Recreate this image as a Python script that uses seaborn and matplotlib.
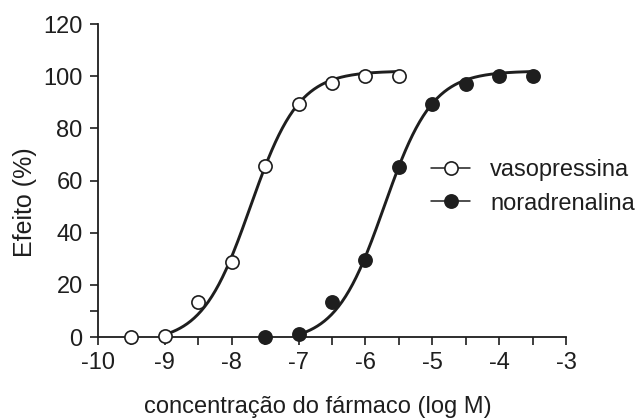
import numpy as np
import pandas as pd
import matplotlib
matplotlib.use("Agg")
import matplotlib.pyplot as plt
from matplotlib.lines import Line2D
import seaborn as sns

# doses (log M) and responses (%)
vaso_dose = [-9.5, -9.0, -8.5, -8.0, -7.5, -7.0, -6.5, -6.0, -5.5]
vaso_effect = [0, 0.5, 13.5, 28.7, 65.5, 89.3, 97.5, 100, 100]
nora_dose = [-7.5, -7.0, -6.5, -6.0, -5.5, -5.0, -4.5, -4.0, -3.5]
nora_effect = [0, 1, 13.5, 29.5, 65.3, 89.4, 97, 100, 100]

# fitted sigmoid parameters (bottom, top, logEC50, hill) and drawn range
vaso_fit = (-2, 102, -7.72, 1.2)
nora_fit = (-2, 102, -5.72, 1.2)
vaso_range = (-9.0, -5.5)
nora_range = (-7.0, -3.5)

x_ticks = [-10, -9, -8, -7, -6, -5, -4, -3]
y_ticks = [0, 20, 40, 60, 80, 100, 120]


def hill(x, bottom, top, ec50, h):
    return bottom + (top - bottom) / (1 + 10 ** ((ec50 - x) * h))


pts = pd.DataFrame({
    'dose': vaso_dose + nora_dose,
    'effect': vaso_effect + nora_effect,
    'drug': ['vasopressina'] * len(vaso_dose) + ['noradrenalina'] * len(nora_dose),
})

curves = []
for name, fit, rng in [('vasopressina', vaso_fit, vaso_range),
                       ('noradrenalina', nora_fit, nora_range)]:
    xs = np.linspace(rng[0], rng[1], 200)
    curves.append(pd.DataFrame({'dose': xs, 'effect': hill(xs, *fit), 'drug': name}))
curves = pd.concat(curves)

sns.set_style("ticks")
plt.rcParams['font.family'] = ['Liberation Sans', 'DejaVu Sans']
ink = '#1e1e1e'

fig = plt.figure(figsize=(6.35, 4.2), dpi=100)
ax = fig.add_axes([0.1543, 0.1976, 0.737, 0.7452])

sns.lineplot(data=curves, x='dose', y='effect', units='drug', estimator=None,
             color=ink, lw=2.1, ax=ax, legend=False)

fills = {'vasopressina': 'white', 'noradrenalina': ink}
for name, sub in pts.groupby('drug'):
    ax.plot(sub['dose'], sub['effect'], 'o', ms=9.5, mfc=fills[name], mec=ink,
            mew=1.2, clip_on=False, zorder=5)

ax.set_xlim(-10, -3)
ax.set_ylim(0, 120)
ax.set_xticks(x_ticks)
ax.set_xticklabels([str(t) for t in x_ticks])
ax.set_xticks(np.arange(-9.5, -3, 1.0), minor=True)
ax.set_yticks(y_ticks)
ax.set_yticks([10], minor=True)
ax.tick_params(axis='both', which='both', direction='out', length=6, width=1.2,
               color=ink, labelsize=17, labelcolor=ink, pad=5)
for side in ['left', 'bottom']:
    ax.spines[side].set_linewidth(1.3)
    ax.spines[side].set_color(ink)
sns.despine(ax=ax)

ax.set_xlabel('concentração do fármaco (log M)', fontsize=17, color=ink)
ax.set_ylabel('Efeito (%)', fontsize=18, color=ink)
ax.xaxis.set_label_coords(0.47, -0.187)
ax.yaxis.set_label_coords(-0.131, 0.431)

handles = [
    Line2D([0], [0], color=ink, lw=1.1, marker='o', ms=9.5, mfc='white', mec=ink, mew=1.2),
    Line2D([0], [0], color=ink, lw=1.1, marker='o', ms=9.5, mfc=ink, mec=ink, mew=1.2),
]
ax.legend(handles, ['vasopressina', 'noradrenalina'], frameon=False, fontsize=17,
          loc='center left', bbox_to_anchor=(0.667, 0.479), handlelength=1.65,
          handletextpad=0.85, labelspacing=0.48, labelcolor=ink)

fig.savefig('out.png', dpi=100)
